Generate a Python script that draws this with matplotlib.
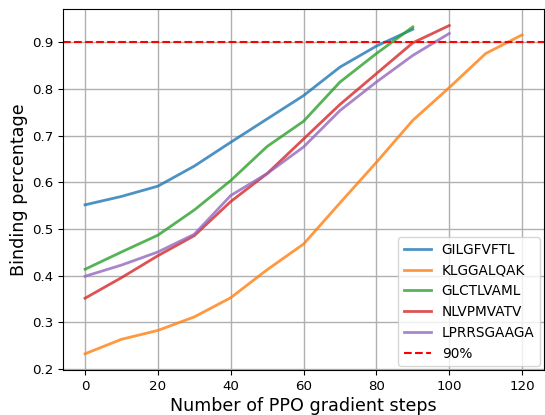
import matplotlib
matplotlib.use("Agg")
import matplotlib.pyplot as plt

steps = [0, 10, 20, 30, 40, 50, 60, 70, 80, 90, 100, 110, 120]

gilgfvftl = [0.552, 0.570, 0.592, 0.635, 0.686, 0.736, 0.786, 0.847, 0.892, 0.928]
klggalqak = [0.233, 0.264, 0.283, 0.312, 0.353, 0.413, 0.468, 0.556, 0.643, 0.733, 0.803, 0.876, 0.916]
glctlvaml = [0.414, 0.451, 0.487, 0.541, 0.604, 0.677, 0.731, 0.815, 0.876, 0.933]
nlvpmvatv = [0.352, 0.396, 0.443, 0.486, 0.559, 0.619, 0.693, 0.767, 0.833, 0.899, 0.936]
lprrsgaaga = [0.399, 0.423, 0.451, 0.489, 0.572, 0.619, 0.676, 0.754, 0.815, 0.872, 0.919]

series = [("GILGFVFTL", gilgfvftl), ("KLGGALQAK", klggalqak),
          ("GLCTLVAML", glctlvaml), ("NLVPMVATV", nlvpmvatv),
          ("LPRRSGAAGA", lprrsgaaga)]
target = 0.9

fig = plt.figure(figsize=(5.45, 4.15), dpi=100)
ax = fig.add_subplot(111)

for name, vals in series:
    ax.plot(steps[:len(vals)], vals, lw=2, alpha=0.8, label=name)
ax.axhline(target, color="red", ls="--", lw=1.5, label="90%")

ax.grid(True, color="#b0b0b0", lw=1)
ax.tick_params(labelsize=9.6)
ax.set_xlabel("Number of PPO gradient steps", fontsize=12.6, labelpad=3)
ax.set_ylabel("Binding percentage", fontsize=12.6, labelpad=3)
ax.legend(loc="lower right", fontsize=9.8, borderaxespad=0.3)

fig.subplots_adjust(left=0.116, right=0.998, top=0.978, bottom=0.108)
fig.savefig("out.png")
